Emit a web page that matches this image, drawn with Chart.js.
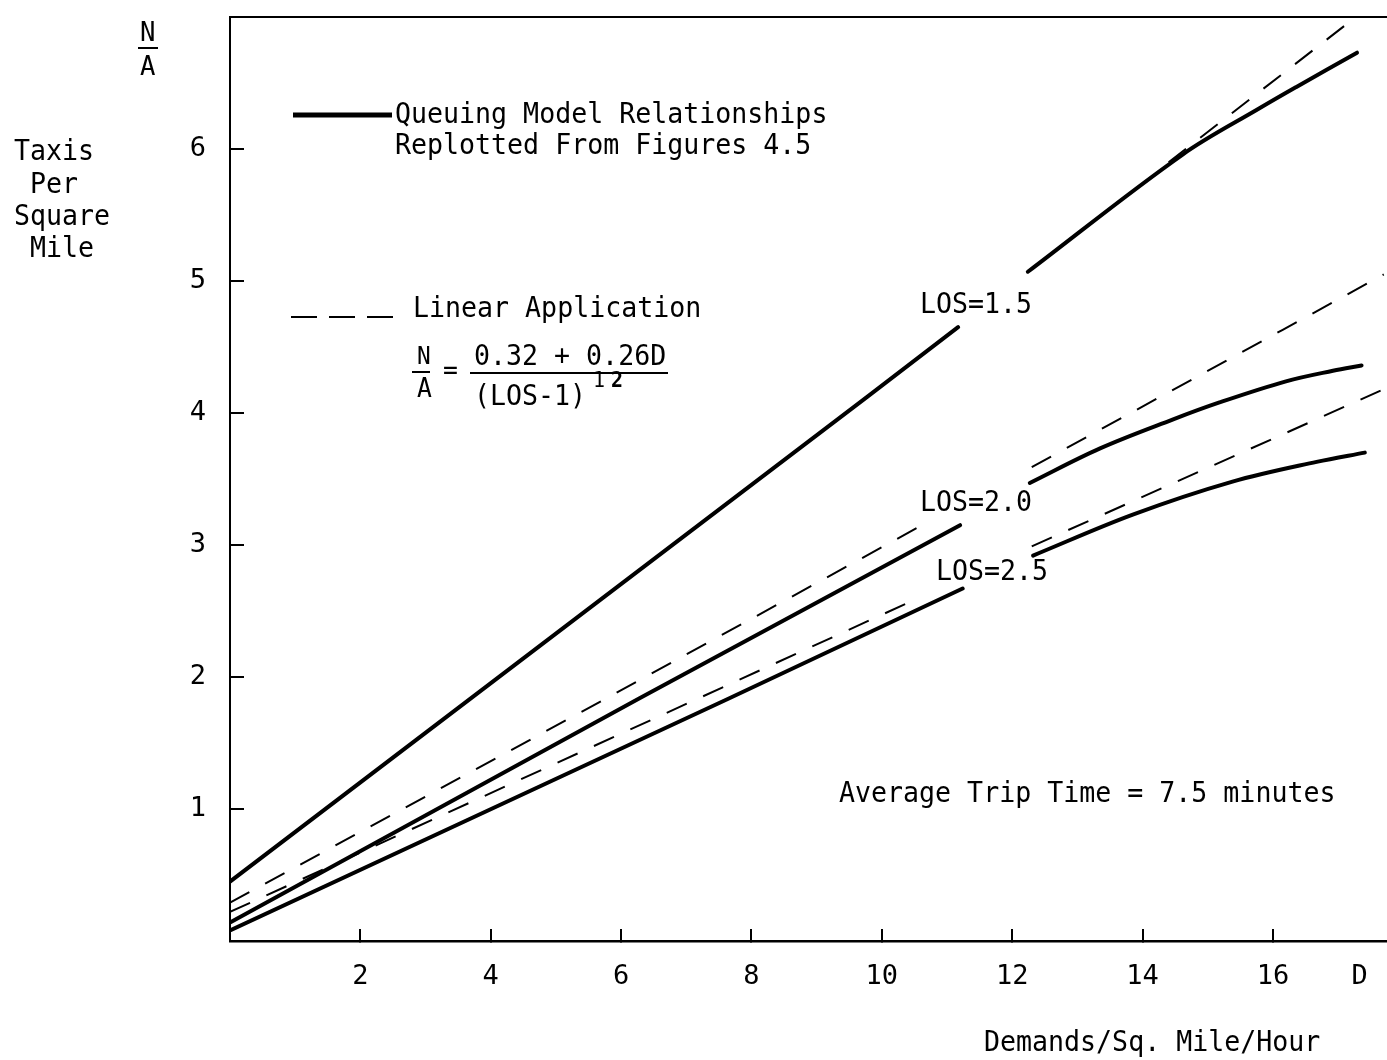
<!DOCTYPE html>
<html>
<head>
<meta charset="utf-8">
<script src="https://cdn.jsdelivr.net/npm/chart.js@4.4.1/dist/chart.umd.min.js"></script>
<style>
html, body { margin: 0; padding: 0; background: #fff; }
</style>
</head>
<body>
<canvas id="taxiChart" width="1387" height="1060"></canvas>
<script>
// axis ticks
const xTicks = [2, 4, 6, 8, 10, 12, 14, 16]
const yTicks = [1, 2, 3, 4, 5, 6]
const dLabelAt = 17.33

// queuing model curves: straight lower part, then the bent upper part
const qD15 = [0, 5.67, 9.77, 11.17]
const qN15 = [0.45, 2.58, 4.12, 4.65]
const qD15b = [12.24, 14.62, 15.8, 16.36, 17.29]
const qN15b = [5.07, 5.96, 6.31, 6.47, 6.73]

const qD20 = [0, 6.29, 11.2]
const qN20 = [0.14, 1.84, 3.15]
const qD20b = [12.27, 13.34, 14.46, 15.18, 16.2, 16.92, 17.36]
const qN20b = [3.47, 3.73, 3.95, 4.08, 4.24, 4.32, 4.36]

const qD25 = [0, 7.62, 11.24]
const qN25 = [0.08, 1.83, 2.67]
const qD25b = [12.32, 13.85, 15.38, 16.67, 17.41]
const qN25b = [2.92, 3.23, 3.48, 3.63, 3.70]

// linear application lines, null = break behind the LOS label
const lD15 = [14.4, 17.22]
const lN15 = [5.9, 6.98]

const lD20 = [0, 5.78, 10.58, 11.4, 12.3, 16.15, 17.7]
const lN20 = [0.29, 1.84, 3.14, null, 3.59, 4.63, 5.05]

const lD25 = [0, 7.55, 10.48, 11.4, 12.3, 17.7]
const lN25 = [0.22, 1.92, 2.58, null, 2.99, 4.18]

const pts = (xs, ys) => xs.map((x, i) => ({ x: x, y: ys[i] }))

const FONT = "DejaVu Sans Mono"

function solid(xs, ys, bend) {
  return {
    data: pts(xs, ys),
    borderColor: "#000",
    borderWidth: 4,
    tension: bend ? 0.35 : 0,
    borderCapStyle: "round",
    pointRadius: 0
  }
}

function dashed(xs, ys) {
  return {
    data: pts(xs, ys),
    borderColor: "#000",
    borderWidth: 2,
    borderDash: [22, 18],
    tension: 0,
    spanGaps: false,
    pointRadius: 0
  }
}

// typewriter text, narrowed a little
function typed(ctx, str, x, y, size, weight) {
  ctx.save()
  ctx.font = (weight || "") + " " + (size || 28) + "px '" + FONT + "'"
  ctx.fillStyle = "#000"
  ctx.textAlign = "left"
  ctx.textBaseline = "alphabetic"
  ctx.translate(x, y)
  ctx.scale(0.95, 1)
  ctx.fillText(str, 0, 0)
  ctx.restore()
}

function bar(ctx, x1, x2, y, w) {
  ctx.save()
  ctx.strokeStyle = "#000"
  ctx.lineWidth = w || 2
  ctx.beginPath()
  ctx.moveTo(x1, y)
  ctx.lineTo(x2, y)
  ctx.stroke()
  ctx.restore()
}

// keep the plot box where it was set, no extra room for labels
function noPad(s) {
  s.paddingTop = 0
  s.paddingBottom = 0
  s.paddingLeft = 0
  s.paddingRight = 0
}

const annotations = {
  id: "annotations",
  afterDraw(chart) {
    const ctx = chart.ctx
    const area = chart.chartArea

    // frame top
    bar(ctx, area.left - 1, area.right, area.top, 2)

    // N / A over the y axis
    typed(ctx, "N", 140, 41, 27)
    bar(ctx, 138, 158, 48, 2)
    typed(ctx, "A", 140, 75, 27)

    typed(ctx, "Taxis", 14, 160)
    typed(ctx, "Per", 30, 193)
    typed(ctx, "Square", 14, 225)
    typed(ctx, "Mile", 30, 257)

    // legend
    bar(ctx, 293, 392, 115, 5)
    typed(ctx, "Queuing Model Relationships", 395, 123)
    typed(ctx, "Replotted From Figures 4.5", 395, 154)

    ctx.save()
    ctx.setLineDash([26, 12])
    bar(ctx, 291, 402, 317, 2)
    ctx.restore()
    typed(ctx, "Linear Application", 413, 317)

    typed(ctx, "N", 417, 364, 24)
    bar(ctx, 412, 430, 372, 2)
    typed(ctx, "A", 417, 397, 26)
    typed(ctx, "=", 443, 379, 26)
    typed(ctx, "0.32 + 0.26D", 474, 365)
    bar(ctx, 470, 668, 373, 2)
    typed(ctx, "(LOS-1)", 474, 405)
    typed(ctx, "1", 593, 387, 21)
    typed(ctx, "2", 611, 387, 21, "bold")

    typed(ctx, "LOS=1.5", 920, 313)
    typed(ctx, "LOS=2.0", 920, 511)
    typed(ctx, "LOS=2.5", 936, 580)

    typed(ctx, "Average Trip Time = 7.5 minutes", 839, 802)
    typed(ctx, "Demands/Sq. Mile/Hour", 984, 1051)
  }
}

new Chart(

document.getElementById(
"taxiChart"
),

{

type: "line",

data: {

datasets: [

solid(qD15, qN15),
solid(qD15b, qN15b, true),
solid(qD20, qN20),
solid(qD20b, qN20b, true),
solid(qD25, qN25),
solid(qD25b, qN25b, true),
dashed(lD15, lN15),
dashed(lD20, lN20),
dashed(lD25, lN25)

]

},

options: {

responsive: false,
animation: false,
layout: { padding: { top: 17, right: 0, bottom: 0, left: 0 } },

plugins: {
legend: { display: false },
tooltip: { enabled: false }
},

scales: {

x: {
type: "linear",
min: 0,
max: 17.75,
afterBuildTicks: s => { s.ticks = xTicks.concat([dLabelAt]).map(v => ({ value: v })) },
afterFit: s => { s.height = 119; noPad(s) },
ticks: {
autoSkip: false,
maxRotation: 0,
padding: 32,
color: "#000",
font: { family: FONT, size: 27 },
callback: v => v === dLabelAt ? "D" : String(v)
},
grid: {
drawOnChartArea: false,
drawTicks: true,
tickLength: -12,
lineWidth: 2,
color: c => (c.tick && c.tick.value === dLabelAt) ? "rgba(0,0,0,0)" : "#000"
},
border: { display: true, color: "#000", width: 2.5 }
},

y: {
type: "linear",
min: 0,
max: 7,
afterBuildTicks: s => { s.ticks = yTicks.map(v => ({ value: v })) },
afterFit: s => { s.width = 230; noPad(s) },
ticks: {
padding: 38,
color: "#000",
font: { family: FONT, size: 27 }
},
grid: {
drawOnChartArea: false,
drawTicks: true,
tickLength: -14,
lineWidth: 2,
color: "#000"
},
border: { display: true, color: "#000", width: 2 }
}

}

},

plugins: [annotations]

}

)
</script>
</body>
</html>
